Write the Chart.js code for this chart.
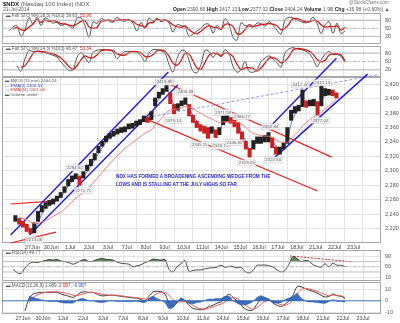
<!DOCTYPE html>
<html>
<head>
<meta charset="utf-8">
<script src="https://cdn.jsdelivr.net/npm/chart.js@4.4.1/dist/chart.umd.min.js"></script>
<style>
body { margin:0; background:#fff; }
#wrap { position:relative; width:400px; height:323px; overflow:hidden; font-family:"Liberation Sans", Arial, sans-serif; }
canvas { position:absolute; left:0; }
.t { position:absolute; white-space:nowrap; font-size:5px; color:#555; line-height:1; z-index:10; }
.b { font-weight:bold; color:#222; }
.r { color:#d22; }
.note { color:#2a2ad8; font-size:4.7px; font-weight:bold; }
</style>
</head>
<body>
<div id="wrap">
  <canvas id="sto1" width="400" height="31" style="top:13px"></canvas>
  <canvas id="sto2" width="400" height="31" style="top:46px"></canvas>
  <canvas id="rsi" width="400" height="31" style="top:250px"></canvas>
  <canvas id="macd" width="400" height="41" style="top:282px"></canvas>
  <canvas id="price" width="400" height="323" style="top:0px;z-index:5"></canvas>

  <div class="t" style="left:3px;top:1px;font-size:6px"><span class="b">$NDX</span> (Nasdaq 100 Index) INDX</div>
  <div class="t" style="left:3px;top:7px">21-Jul-2014</div>
  <div class="t" style="left:349px;top:1px;font-size:4.6px;color:#777">@StockCharts.com</div>
  <div class="t" style="left:173px;top:7px"><span class="b">Open</span> 2390.66 <span class="b">High</span> 2417.13 <span class="b">Low</span> 2377.02 <span class="b">Close</span> 2404.24 <span class="b">Volume</span> 1.9B <span class="b">Chg</span> +16.98 (+0.60%) &#9650;</div>

  <div class="t" style="left:6px;top:14px;font-size:4.6px">&#9644; Full STO %K(18,3) %D(3) 39.63, <span class="r">53.96</span></div>
  <div class="t" style="left:6px;top:47px;font-size:4.6px">&#9644; Full STO %K(14,3) %D(3) 46.47, <span class="r">53.34</span></div>
  <div class="t" style="left:5px;top:79px;font-size:4.4px">&#9644; $NDX (15 min) 2404.24</div>
  <div class="t" style="left:5px;top:83.5px;font-size:4.4px;color:#3344cc">&mdash; EMA(3) 2406.53</div>
  <div class="t" style="left:5px;top:88px;font-size:4.4px;color:#e03333">&mdash; EMA(34) 2401.06</div>
  <div class="t" style="left:5px;top:92.5px;font-size:4.4px">&#9644; Volume undef</div>
  <div class="t" style="left:6px;top:251px;font-size:4.6px">&#9644; RSI(14) 49.77</div>
  <div class="t" style="left:6px;top:284px;font-size:4.6px">&#9644; MACD(12,26,9) 1.989, <span class="r">2.997</span>, <span style="color:#3355bb">-0.957</span></div>

  <div class="t note" style="left:116px;top:175px">NDX HAS FORMED A BROADENING ASCENDING WEDGE FROM THE</div>
  <div class="t note" style="left:116px;top:183px">LOWS AND IS STALLING AT THE JULY HIGHS SO FAR</div>
</div>

<script>
// date labels, one per trading day (x unit = 1 trading day from 27Jun open)
var dayLabels = ['27Jun','30Jun','1Jul','2Jul','3Jul','7Jul','8Jul','9Jul','10Jul','11Jul','14Jul','15Jul','16Jul','17Jul','18Jul','21Jul','22Jul','23Jul'];
var dayPos = dayLabels.map(function (d, i) { return i; });

// sample times, about every 75 min
var times = [];
for (var k = 0; k < 86; k++) times.push(-0.9 + k * 0.2);

var priceHigh = [2238,2234,2230,2226,2220,2228,2244,2252,2256,2259,2261,2265,2270,2278,2288,2293,2296,2293,2299,2308,
  2316,2324,2334,2341,2348,2352,2355,2358,2360,2361,2365,2366,2369,2371,2376,2374,2382,2401,2409,2414,
  2420,2408,2392,2393,2397,2401,2392,2377,2369,2364,2362,2360,2361,2357,2360,2376,2377,2374,2370,2367,
  2354,2341,2331,2342,2347,2347,2349,2353,2346,2333,2333,2339,2360,2384,2389,2391,2412,2397,2398,2399,
  2396,2417,2414,2413,2412,2408];
var priceLow = [2230,2226,2222,2216,2213,2214,2230,2243,2248,2252,2254,2258,2263,2270,2279,2285,2289,2280,2290,2300,
  2307,2315,2325,2334,2340,2345,2348,2351,2353,2354,2358,2359,2362,2364,2368,2367,2371,2390,2401,2406,
  2410,2393,2379,2384,2390,2392,2376,2367,2360,2355,2352,2345,2352,2346,2350,2364,2368,2366,2361,2352,
  2340,2330,2319,2330,2338,2338,2340,2340,2332,2323,2323,2330,2338,2370,2380,2383,2389,2388,2390,2390,
  2377,2390,2404,2405,2404,2401];
var emaFast = [null,2232,2229,2225,2220,2219,2228,2240,2247,2252,2255,2259,2264,2270,2279,2285,2289,2289,2292,2299,
  2307,2315,2324,2332,2340,2345,2349,2352,2355,2357,2360,2362,2364,2366,2370,2370,2373,2390,2400,2407,
  2412,2405,2392,2391,2393,2395,2386,2377,2369,2363,2360,2357,2357,2355,2355,2366,2370,2370,2367,2364,
  2352,2341,2330,2335,2340,2342,2344,2348,2342,2334,2330,2333,2340,2366,2378,2384,2391,2392,2393,2394,
  2391,2397,2405,2407,2407,2406];
var emaSlow = [null,2236,2234,2232,2229,2227,2227,2229,2231,2234,2237,2240,2243,2247,2252,2257,2262,2266,2270,2275,
  2280,2286,2292,2298,2304,2310,2316,2321,2326,2331,2335,2339,2343,2347,2351,2354,2357,2363,2369,2375,
  2381,2384,2385,2386,2387,2389,2388,2386,2383,2380,2377,2374,2372,2369,2367,2368,2368,2368,2368,2367,
  2364,2360,2355,2352,2350,2349,2348,2348,2346,2343,2340,2339,2339,2345,2350,2355,2362,2367,2371,2375,
  2377,2381,2386,2390,2394,2400];

var sto1K = [null,40,55,60,20,45,90,65,91,60,88,80,69,72,60,66,60,50,88,89,
  60,16,74,68,86,80,78,72,91,80,76,83,69,39,72,50,88,76,88,74,
  80,70,35,64,60,54,20,28,40,50,65,65,31,61,45,86,65,16,5,70,
  60,58,54,69,68,58,75,61,42,28,80,91,88,80,75,70,75,91,69,30,
  62,75,31,69,30,40];
var sto1D = [null,null,48,52,45,42,55,66,82,72,80,76,79,74,67,66,62,59,66,76,
  79,55,50,53,76,78,81,77,80,81,82,80,76,64,60,54,70,71,84,79,
  81,75,62,56,53,59,45,34,29,39,52,60,54,52,46,64,65,56,29,30,
  45,63,57,60,64,65,67,65,59,44,50,66,86,86,81,75,73,79,78,63,
  54,56,56,58,43,54];
var sto2K = [null,null,null,35,15,60,90,85,86,84,82,77,72,66,48,32,18,20,65,82,
  64,46,82,90,92,92,90,85,60,75,85,86,85,84,70,50,80,92,92,88,
  80,40,12,60,88,88,55,15,10,40,90,86,64,82,66,92,78,32,12,20,
  50,15,12,20,50,62,70,60,45,30,80,95,99,95,92,88,80,60,32,55,
  75,85,75,75,68,47];
var sto2D = [null,null,null,null,30,35,55,78,87,85,84,81,77,71,62,48,32,22,35,56,
  70,64,64,73,88,91,91,89,78,73,73,82,85,85,80,68,67,74,88,91,
  86,69,44,37,53,79,77,52,27,22,47,72,80,77,71,80,79,67,41,21,
  27,28,26,16,27,44,61,64,58,45,52,68,91,96,95,92,87,76,57,49,
  54,72,78,78,73,53];

var rsiVals = [null,null,40,28,24,45,62,68,66,70,74,78,76,78,72,70,66,60,66,74,
  78,70,72,78,82,80,78,76,68,64,62,60,50,54,58,66,72,80,78,76,
  78,40,30,50,62,74,32,36,38,38,42,45,46,49,56,48,52,50,46,48,
  32,26,36,56,56,57,54,49,38,30,36,60,90,82,70,74,72,58,52,48,
  62,50,64,56,56,50];

var macdLine = [null,null,null,null,null,-9,2,6,7,7.5,7.5,7.5,7.5,7.5,6,5,4,3,5,7.5,
  8,7.5,7.5,6,4.5,4.5,5,5,4.5,4,3.5,3,2.5,2.5,1,0,4,8,8.5,8,
  6,-2,-5,-2,1.5,0,-4,-6.7,-7.5,-8,-7,-5,-4,-2,-1,3,6,3,0,-4,
  -7,-8.5,-8,-3,1.5,2.5,1.5,-2,-4,-5,-3,0,5,12.5,12.5,11,9.5,8.5,7,5,
  3.3,4,6,4.5,4,2];
var macdSignal = [null,null,null,null,null,null,-2,3,5,6.5,7.5,8,8,8,7.5,7,6,5,4.5,5.5,
  6.5,7.5,7.5,7,6,5.5,5,5,5,4.5,4,3.5,3,2.8,2.2,1.5,2,4,6.5,7.5,
  7.5,5,1,-1,-1,-0.5,-2,-4,-6,-7,-7.5,-6.5,-5.5,-4,-3,-1,2,3,2,-0.5,
  -3.5,-6,-7.5,-6,-3,-0.5,0.5,0,-2,-3.5,-4,-2.5,1,6,10,11,10.5,9.5,8.5,7,
  5.5,4.5,5,5,4.5,3];
var macdHist = [null,null,null,null,null,null,4,3,2,1,0,-0.5,-0.5,-0.5,-1.5,-2,-2,-2,0.5,2,
  1.5,0,0,-1,-1.5,-1,0,0,-0.5,-0.5,-0.5,-0.5,-0.5,-0.3,-1.2,-1.5,2,4,2,0.5,
  -1.5,-7,-6,-1,2.5,0.5,-2,-2.7,-1.5,-1,0.5,1.5,1.5,2,2,4,4,0,-2,-3.5,
  -3.5,-2.5,-0.5,3,4.5,3,1,-2,-2,-1.5,1,2.5,4,6.5,2.5,0,-1,-1,-1.5,-2,
  -2.2,-0.5,1,-0.5,-0.5,-1];

// hand-drawn trend lines, [day, price]
var wedgeUpLeft = [[-1.15, 2211], [7.2, 2437]];
var wedgeLowLeft = [[-0.15, 2211], [7.7, 2419]];
var redLeftUpper = [[-1.15, 2254], [1.05, 2258]];
var redLeftLower = [[-1.15, 2200], [1.25, 2215]];
var chanUpper = [[7.0, 2423], [15.85, 2319]];
var chanLower = [[6.0, 2372], [15.1, 2272]];
var riseUpper = [[12.5, 2359], [16.1, 2456]];
var riseLower = [[12.85, 2319], [17.75, 2434]];
var dashBlue = [[5.85, 2373], [18.25, 2433]];
var rsiTrend = [[13.35, 92], [16.5, 69]];

var noteDay = [0.1, 2.7, 2.25, 7.0, 8.1, 7.45, 8.85, 9.95, 10.1, 11.1, 10.7, 11.35, 12.6, 12.75, 14.2, 15.35, 15.25];
var notePrice = [2204, 2273, 2304, 2423, 2409, 2370, 2336, 2334, 2381, 2375, 2339, 2311, 2361, 2315, 2419, 2422, 2370];
var noteText = ['2213.08','2271.71','2281.62','2419.99','2400.39','2379.14','2345.11','2346.13','2371.94','2365.77','2346.80','2319.29','2352.84','2322.60','2412.42','2417.13','2377.02'];

var X_MIN = -1.05, X_MAX = 17.9;

function pts(arr) {
  return times.map(function (t, i) { return { x: t, y: arr[i] == null ? null : arr[i] }; });
}
function seg(pairs) {
  return pairs.map(function (p) { return { x: p[0], y: p[1] }; });
}
function level(v, color, dash) {
  return { data: [{ x: X_MIN, y: v }, { x: X_MAX, y: v }], borderColor: color, borderWidth: 0.8, borderDash: dash || [], pointRadius: 0 };
}

function xAxis(show) {
  return {
    type: 'linear', min: X_MIN, max: X_MAX,
    afterBuildTicks: function (s) { s.ticks = dayPos.map(function (v) { return { value: v }; }); },
    grid: { color: '#e3e3e3', lineWidth: 1, drawTicks: false },
    border: { display: false },
    ticks: {
      display: show, autoSkip: false, maxRotation: 0, padding: 1.5,
      font: { size: 5.5, family: 'Liberation Sans' }, color: '#444',
      callback: function (v) { return dayLabels[v]; }
    },
    afterFit: function (s) { s.height = show ? 9 : 0; s.paddingLeft = 0; s.paddingRight = 0; }
  };
}
function yAxis(min, max, tickVals) {
  return {
    position: 'right', min: min, max: max,
    afterBuildTicks: function (s) { s.ticks = tickVals.map(function (v) { return { value: v }; }); },
    grid: { color: '#e3e3e3', drawTicks: false },
    border: { display: false },
    ticks: { padding: 4, font: { size: 5.5, family: 'Liberation Sans' }, color: '#555' },
    afterFit: function (s) { s.width = 19; s.paddingTop = 0; s.paddingBottom = 0; }
  };
}

var framePlugin = {
  id: 'frame',
  beforeDatasetsDraw: function (c) {
    var a = c.chartArea, ctx = c.ctx;
    ctx.save();
    ctx.strokeStyle = '#a8a8a8';
    ctx.lineWidth = 1;
    ctx.strokeRect(Math.round(a.left) + 0.5, Math.round(a.top) + 0.5, Math.round(a.right - a.left) - 1, Math.round(a.bottom - a.top) - 1);
    ctx.restore();
  }
};

var notePlugin = {
  id: 'notes',
  afterDatasetsDraw: function (c) {
    var ctx = c.ctx, xs = c.scales.x, ys = c.scales.y;
    ctx.save();
    ctx.font = '4.4px "Liberation Sans"';
    ctx.textAlign = 'center';
    ctx.textBaseline = 'middle';
    for (var i = 0; i < noteText.length; i++) {
      var px = xs.getPixelForValue(noteDay[i]), py = ys.getPixelForValue(notePrice[i]);
      var w = ctx.measureText(noteText[i]).width + 2;
      ctx.fillStyle = 'rgba(245,245,245,0.9)';
      ctx.fillRect(px - w / 2, py - 3, w, 6);
      ctx.strokeStyle = '#c8c8c8';
      ctx.lineWidth = 0.5;
      ctx.strokeRect(px - w / 2, py - 3, w, 6);
      ctx.fillStyle = '#666';
      ctx.fillText(noteText[i], px, py);
    }
    ctx.restore();
  }
};

var base = {
  responsive: false,
  animation: false,
  events: [],
  plugins: { legend: { display: false }, tooltip: { enabled: false } },
  elements: { point: { radius: 0 }, line: { tension: 0.3, borderWidth: 1 } }
};
function opts(extra) {
  var o = JSON.parse(JSON.stringify(base));
  for (var key in extra) o[key] = extra[key];
  return o;
}

function stoChart(id, kArr, dArr, yMin, yMax) {
  return new Chart(document.getElementById(id), {
    type: 'line',
    data: {
      datasets: [
        level(80, '#b0b0b0'), level(20, '#b0b0b0'), level(50, '#b0b0b0', [4, 2, 1, 2]),
        { data: pts(dArr), borderColor: '#d41a1a', borderWidth: 1.3 },
        { data: pts(kArr), borderColor: '#111', borderWidth: 0.7 }
      ]
    },
    options: opts({
      layout: { padding: { left: 2 } },
      scales: { x: xAxis(false), y: yAxis(yMin, yMax, [80, 50, 20]) }
    }),
    plugins: [framePlugin]
  });
}
stoChart('sto1', sto1K, sto1D, -9, 107);
stoChart('sto2', sto2K, sto2D, -5, 105);

// RSI
new Chart(document.getElementById('rsi'), {
  type: 'line',
  data: {
    datasets: [
      level(70, '#b0b0b0'), level(30, '#b0b0b0'), level(50, '#b0b0b0', [4, 2, 1, 2]),
      { data: pts(rsiVals), borderColor: '#222', borderWidth: 0.8,
        fill: { target: { value: 70 }, above: 'rgba(70,120,60,0.85)', below: 'rgba(0,0,0,0)' } },
      { data: seg(rsiTrend), borderColor: '#e02020', borderWidth: 1, borderDash: [2, 1.5], tension: 0, clip: false }
    ]
  },
  options: opts({
    layout: { padding: { left: 2 } },
    scales: { x: xAxis(false), y: yAxis(-5, 115, [90, 70, 50, 30, 10]) }
  }),
  plugins: [framePlugin]
});

// MACD
new Chart(document.getElementById('macd'), {
  type: 'line',
  data: {
    datasets: [
      { data: pts(macdHist), borderColor: '#2a5db0', borderWidth: 0.6, backgroundColor: 'rgba(40,95,180,0.9)', fill: 'origin', tension: 0.2 },
      level(0, '#2a5db0'),
      { data: pts(macdSignal), borderColor: '#f06060', borderWidth: 1 },
      { data: pts(macdLine), borderColor: '#111', borderWidth: 0.8 }
    ]
  },
  options: opts({
    layout: { padding: { left: 2 } },
    scales: { x: xAxis(true), y: yAxis(-11.7, 16.7, [10, 0, -10]) }
  }),
  plugins: [framePlugin]
});

// main price panel, canvas covers the whole page so trend lines can run over other panels
function trend(pairs, color, width, dash) {
  return { data: seg(pairs), borderColor: color, borderWidth: width, borderDash: dash || [], tension: 0, clip: false, pointRadius: 0 };
}
new Chart(document.getElementById('price'), {
  type: 'line',
  data: {
    datasets: [
      { data: pts(emaSlow), borderColor: '#f07070', borderWidth: 0.9 },
      { type: 'bar', data: times.map(function (t, i) { return { x: t, y: [priceLow[i], priceHigh[i]] }; }),
        barThickness: 3.4,
        backgroundColor: function (c) {
          var i = c.dataIndex;
          if (i == 0) return '#222';
          return (priceLow[i] + priceHigh[i]) < (priceLow[i - 1] + priceHigh[i - 1]) ? '#cc2020' : '#222';
        } },
      { data: pts(emaFast), borderColor: '#4455cc', borderWidth: 0.8 },
      trend(wedgeUpLeft, '#1a1aee', 1.4),
      trend(wedgeLowLeft, '#1a1aee', 1.4),
      trend(redLeftUpper, '#ee2020', 1.2),
      trend(redLeftLower, '#ee2020', 1.2),
      trend(chanUpper, '#ee2020', 1.2),
      trend(chanLower, '#ee2020', 1.2),
      trend(riseUpper, '#1a1aee', 1.4),
      trend(riseLower, '#1a1aee', 1.4),
      trend(dashBlue, '#8a8af0', 0.9, [3, 2])
    ]
  },
  options: opts({
    layout: { padding: { left: 2, top: 77, bottom: 71 } },
    scales: { x: xAxis(true), y: yAxis(2200, 2430, [2420,2410,2400,2390,2380,2370,2360,2350,2340,2330,2320,2310,2300,2290,2280,2270,2260,2250,2240,2230,2220,2210]) }
  }),
  plugins: [framePlugin, notePlugin]
});
</script>
</body>
</html>
